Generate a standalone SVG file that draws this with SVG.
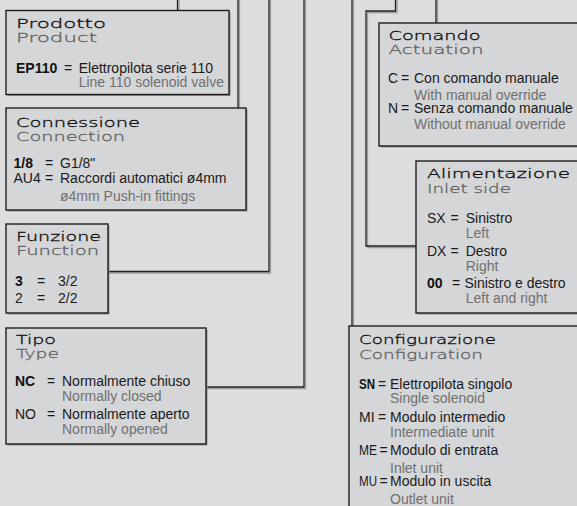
<svg xmlns="http://www.w3.org/2000/svg" width="577" height="506" viewBox="0 0 577 506">
<style>
.bg{fill:#dcdddf}
.box{fill:#d5d6d8;stroke:#1e1e1e;stroke-width:1.4}
.sh{fill:#8f9092}
.ln{fill:none;stroke:#222;stroke-width:1.3}
.lnsh{fill:none;stroke:#9a9b9d;stroke-width:1.3}
.t{font-family:"DejaVu Sans","Liberation Sans",sans-serif;font-size:12.5px;font-weight:200;fill:#111;stroke:#111;stroke-width:0.3}
.s{font-family:"DejaVu Sans","Liberation Sans",sans-serif;font-size:12.5px;font-weight:200;fill:#666;stroke:#666;stroke-width:0.3}
.b{font-family:"Liberation Sans",Arial,sans-serif;font-size:14px;fill:#1a1a1a}
.k{font-family:"Liberation Sans",Arial,sans-serif;font-size:14px;font-weight:bold;fill:#111}
.g{font-family:"Liberation Sans",Arial,sans-serif;font-size:14px;fill:#707070}
</style>
<rect class="bg" x="0" y="0" width="577" height="506"/>
<g id="connectors">
<path class="lnsh" d="M179,0V10.5 M239.5,0V108 M109,273 H270.5 V0 M207,388.5 H305.5 V0 M437.5,0 V23 M397,0 V12.5 H367.5 V247.5 H416 M353.5,0 V326"/>
<path class="ln" d="M177.5,0V10.5 M238,0V108 M108,271.5 H269 V0 M206,387 H304 V0 M436,0 V23 M395.5,0 V11 H366 V246 H416 M352,0 V326"/>
</g>
<g id="prodotto">
<rect class="sh" x="7.5" y="12" width="223" height="84"/>
<rect class="box" x="6" y="10.5" width="223" height="84"/>
<text class="t" transform="translate(16,27.7) scale(1.6,1)" textLength="56.25" lengthAdjust="spacingAndGlyphs">Prodotto</text>
<text class="s" transform="translate(16,41.7) scale(1.6,1)" textLength="50.63" lengthAdjust="spacingAndGlyphs">Product</text>
<text class="k" x="16" y="72.7">EP110</text>
<text class="b" x="64" y="72.7">=</text>
<text class="b" x="78.7" y="72.7">Elettropilota serie 110</text>
<text class="g" x="78.7" y="87.3">Line 110 solenoid valve</text>
</g>
<g id="connessione">
<rect class="sh" x="7.5" y="109.5" width="240" height="102"/>
<rect class="box" x="6" y="108" width="240" height="102"/>
<text class="t" transform="translate(16,126.5) scale(1.6,1)" textLength="77.5" lengthAdjust="spacingAndGlyphs">Connessione</text>
<text class="s" transform="translate(16,141) scale(1.6,1)" textLength="68.13" lengthAdjust="spacingAndGlyphs">Connection</text>
<text class="k" x="13.5" y="167.7">1/8</text>
<text class="b" x="45" y="167.7">=</text>
<text class="b" x="60" y="167.7">G1/8"</text>
<text class="b" x="13.5" y="183.3">AU4</text>
<text class="b" x="45" y="183.3">=</text>
<text class="b" x="60" y="183.3">Raccordi automatici ø4mm</text>
<text class="g" x="60" y="201.2">ø4mm Push-in fittings</text>
</g>
<g id="funzione">
<rect class="sh" x="7.5" y="225.5" width="102" height="89"/>
<rect class="box" x="6" y="224" width="102" height="89"/>
<text class="t" transform="translate(16,240.5) scale(1.6,1)" textLength="53.13" lengthAdjust="spacingAndGlyphs">Funzione</text>
<text class="s" transform="translate(16,254.7) scale(1.6,1)" textLength="51.88" lengthAdjust="spacingAndGlyphs">Function</text>
<text class="k" x="15" y="285.7">3</text>
<text class="b" x="37" y="285.7">=</text>
<text class="b" x="58" y="285.7">3/2</text>
<text class="b" x="15" y="303.3">2</text>
<text class="b" x="37" y="303.3">=</text>
<text class="b" x="58" y="303.3">2/2</text>
</g>
<g id="tipo">
<rect class="sh" x="7.5" y="329.5" width="200" height="116"/>
<rect class="box" x="6" y="328" width="200" height="116"/>
<text class="t" transform="translate(16,343.5) scale(1.6,1)" textLength="25" lengthAdjust="spacingAndGlyphs">Tipo</text>
<text class="s" transform="translate(16,357.5) scale(1.6,1)" textLength="26.88" lengthAdjust="spacingAndGlyphs">Type</text>
<text class="k" x="15" y="385.7">NC</text>
<text class="b" x="47" y="385.7">=</text>
<text class="b" x="62" y="385.7">Normalmente chiuso</text>
<text class="g" x="62" y="401">Normally closed</text>
<text class="b" x="15" y="419">NO</text>
<text class="b" x="47" y="419">=</text>
<text class="b" x="62" y="419">Normalmente aperto</text>
<text class="g" x="62" y="433.7">Normally opened</text>
</g>
<g id="comando">
<rect class="sh" x="380.5" y="24.5" width="220" height="123"/>
<rect class="box" x="379" y="23" width="220" height="123"/>
<text class="t" transform="translate(388.5,40) scale(1.6,1)" textLength="57.5" lengthAdjust="spacingAndGlyphs">Comando</text>
<text class="s" transform="translate(388.5,54.3) scale(1.6,1)" textLength="59.38" lengthAdjust="spacingAndGlyphs">Actuation</text>
<text class="b" x="388" y="83.3">C</text>
<text class="b" x="401" y="83.3">=</text>
<text class="b" x="414" y="83.3">Con comando manuale</text>
<text class="g" x="414" y="100">With manual override</text>
<text class="b" x="388" y="112.7">N</text>
<text class="b" x="401" y="112.7">=</text>
<text class="b" x="414" y="112.7">Senza comando manuale</text>
<text class="g" x="414" y="129.3">Without manual override</text>
</g>
<g id="alimentazione">
<rect class="sh" x="417.5" y="162.5" width="200" height="152"/>
<rect class="box" x="416" y="161" width="200" height="152"/>
<text class="t" transform="translate(427,177.5) scale(1.6,1)" textLength="89.38" lengthAdjust="spacingAndGlyphs">Alimentazione</text>
<text class="s" transform="translate(427,192.5) scale(1.6,1)" textLength="52.5" lengthAdjust="spacingAndGlyphs">Inlet side</text>
<text class="b" x="427" y="223.3">SX</text>
<text class="b" x="450.5" y="223.3">=</text>
<text class="b" x="465.7" y="223.3">Sinistro</text>
<text class="g" x="465.7" y="238.3">Left</text>
<text class="b" x="427" y="256">DX</text>
<text class="b" x="450.5" y="256">=</text>
<text class="b" x="465.7" y="256">Destro</text>
<text class="g" x="465.7" y="271">Right</text>
<text class="k" x="427" y="288.3">00</text>
<text class="b" x="452" y="288.3">=</text>
<text class="b" x="464.5" y="288.3">Sinistro e destro</text>
<text class="g" x="465.7" y="303.3">Left and right</text>
</g>
<g id="configurazione">
<rect class="sh" x="350.5" y="327.5" width="260" height="200"/>
<rect class="box" x="349" y="326" width="260" height="200"/>
<text class="t" transform="translate(359,344.3) scale(1.6,1)" textLength="85.63" lengthAdjust="spacingAndGlyphs">Configurazione</text>
<text class="s" transform="translate(359,359) scale(1.6,1)" textLength="77.5" lengthAdjust="spacingAndGlyphs">Configuration</text>
<text class="k" x="359" y="389.3" textLength="16" lengthAdjust="spacingAndGlyphs">SN</text>
<text class="b" x="378" y="389.3">=</text>
<text class="b" x="390" y="389.3">Elettropilota singolo</text>
<text class="g" x="390" y="403.3">Single solenoid</text>
<text class="b" x="359" y="421.7">MI</text>
<text class="b" x="378" y="421.7">=</text>
<text class="b" x="390" y="421.7">Modulo intermedio</text>
<text class="g" x="390" y="436.7">Intermediate unit</text>
<text class="b" x="359" y="455" textLength="18" lengthAdjust="spacingAndGlyphs">ME</text>
<text class="b" x="379.5" y="455">=</text>
<text class="b" x="390" y="455">Modulo di entrata</text>
<text class="g" x="390" y="473.3">Inlet unit</text>
<text class="b" x="359" y="486" textLength="18" lengthAdjust="spacingAndGlyphs">MU</text>
<text class="b" x="379.5" y="486">=</text>
<text class="b" x="390" y="486">Modulo in uscita</text>
<text class="g" x="390" y="504">Outlet unit</text>
</g>
</svg>
